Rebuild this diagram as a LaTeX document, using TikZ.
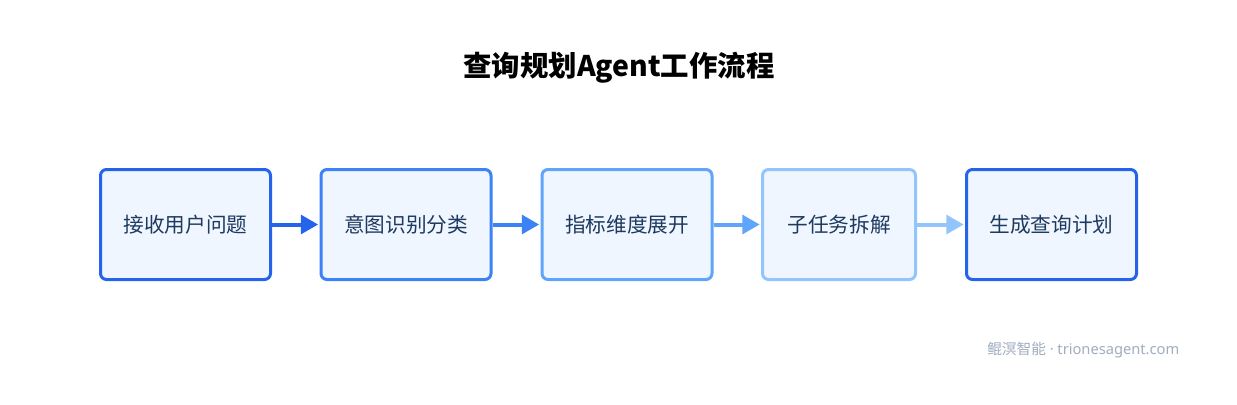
\documentclass[tikz,border=0pt]{standalone}
\usepackage{fontspec}
\setmainfont{Noto Sans CJK SC}
\newfontfamily\latinfont{Noto Sans}
\usetikzlibrary{arrows.meta}
\definecolor{bA}{HTML}{2563EB}
\definecolor{bB}{HTML}{3B82F6}
\definecolor{bC}{HTML}{60A5FA}
\definecolor{bD}{HTML}{93C5FD}
\definecolor{boxfill}{HTML}{EFF6FF}
\definecolor{txt}{HTML}{1E3A5F}
\definecolor{wm}{HTML}{A0AEC0}
\tikzset{
  stepbox/.style={draw, line width=2.25pt, rounded corners=4.5pt, fill=boxfill,
    minimum width=127.5pt, minimum height=82.5pt, inner sep=0pt,
    text=txt, font=\fontsize{15.5pt}{18pt}\selectfont},
  flowarrow/.style={line width=3pt, -{Triangle[length=13pt,width=14pt]}, shorten >=1pt},
}
\begin{document}
\begin{tikzpicture}[x=0.75pt,y=-0.75pt]
\useasboundingbox[fill=white] (0,0) rectangle (1237,404);
\node[font=\fontsize{21.3pt}{25pt}\selectfont\bfseries] (title) at (619,68) {查询规划Agent工作流程};
\node[stepbox, draw=bA] (s1) at (185.5,224.5) {接收用户问题};
\node[stepbox, draw=bB] (s2) at (406,224.5) {意图识别分类};
\node[stepbox, draw=bC] (s3) at (627,224.5) {指标维度展开};
\node[stepbox, draw=bD, minimum width=114.75pt] (s4) at (839,224.5) {子任务拆解};
\node[stepbox, draw=bA] (s5) at (1051.5,224.5) {生成查询计划};
\draw[flowarrow, bA] (s1.east) -- (s2.west);
\draw[flowarrow, bB] (s2.east) -- (s3.west);
\draw[flowarrow, bC] (s3.east) -- (s4.west);
\draw[flowarrow, bD] (s4.east) -- (s5.west);
\node[anchor=east, text=wm, font=\fontsize{11pt}{13pt}\selectfont] (mark) at (1184,350) {鲲溟智能{\latinfont{}\ ·\ trionesagent.com}};
\end{tikzpicture}
\end{document}
